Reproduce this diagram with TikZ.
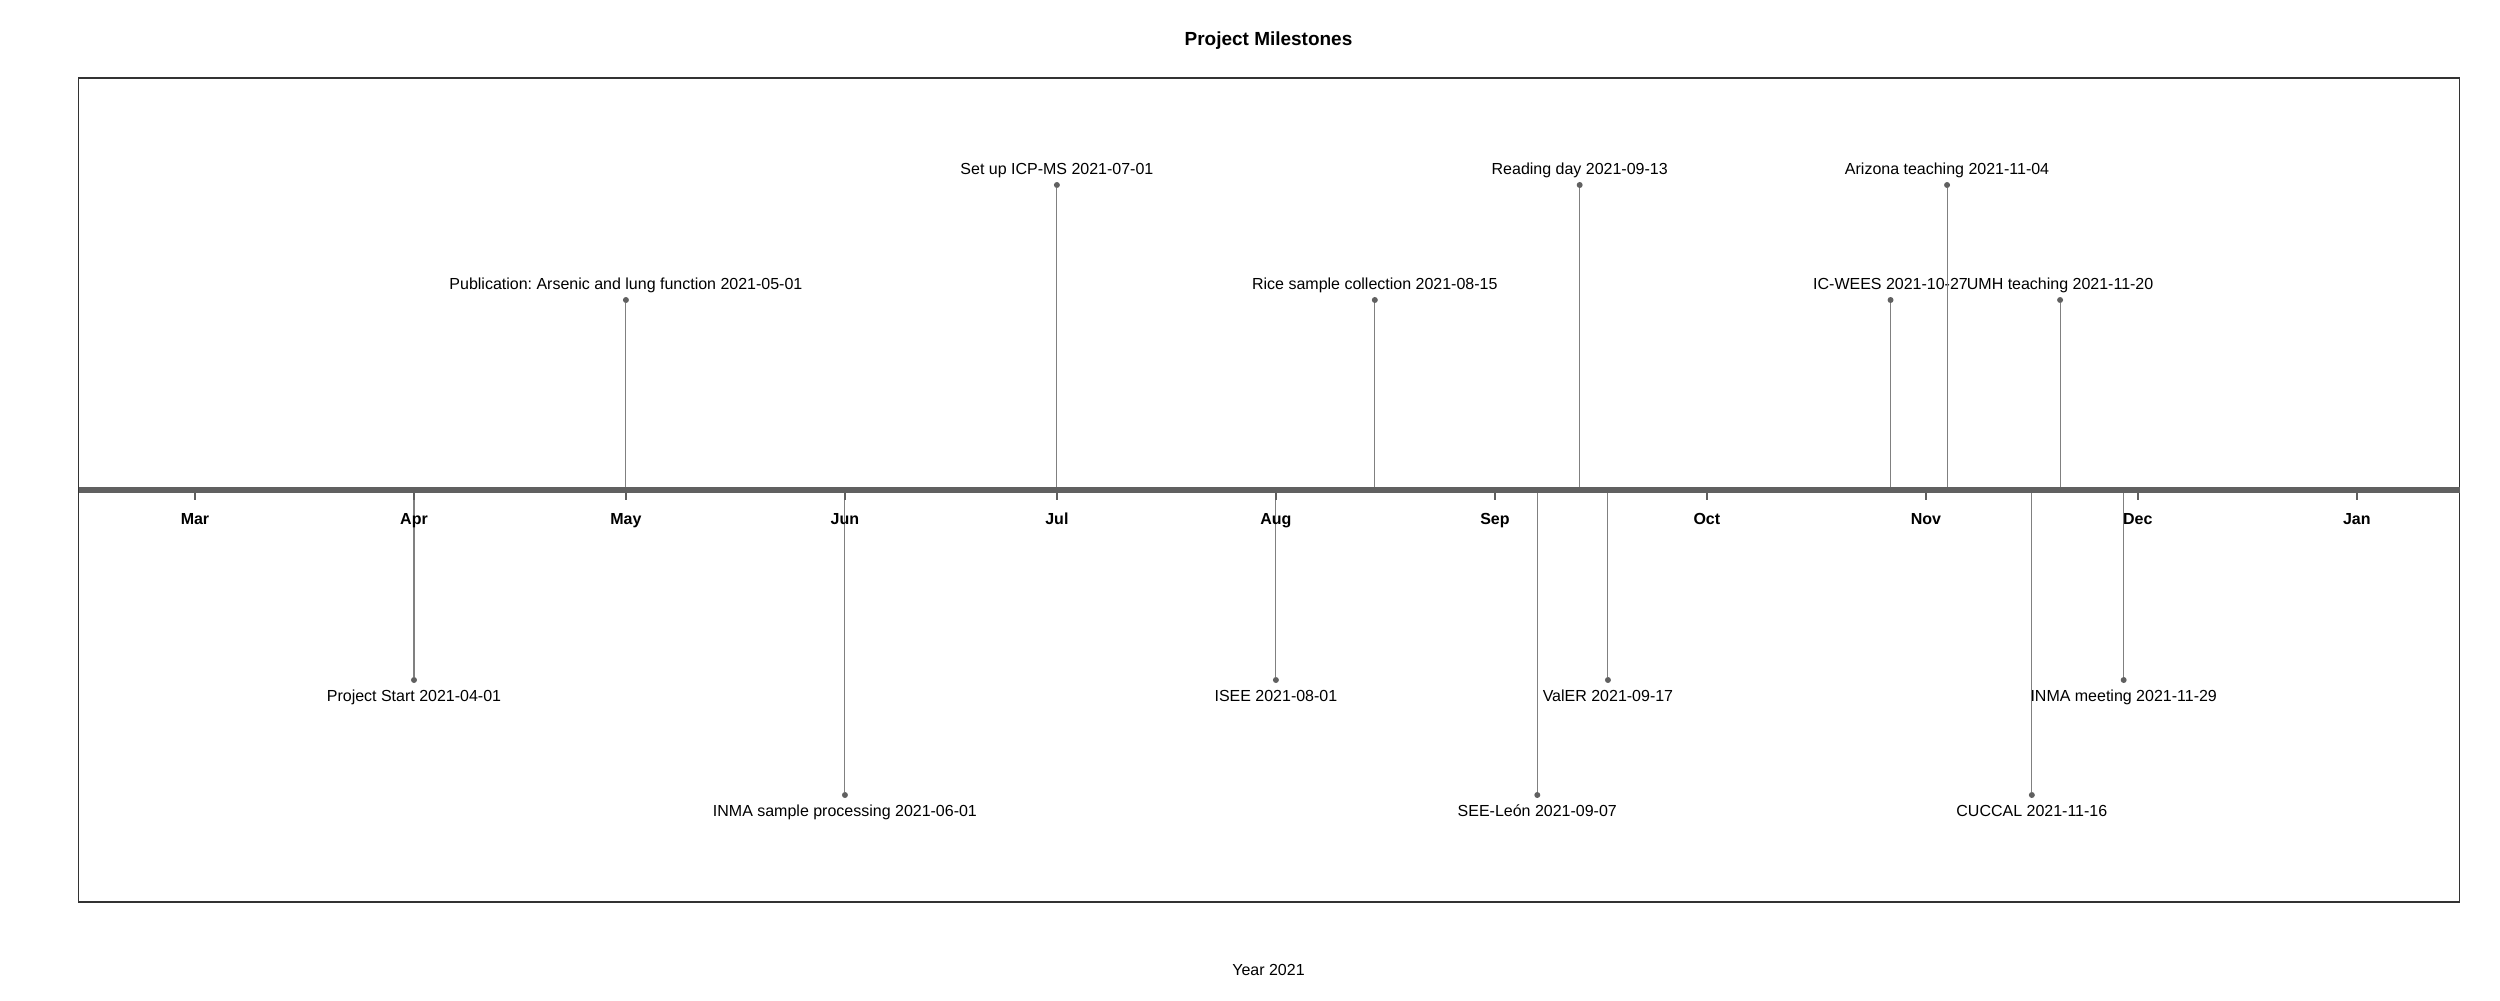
\documentclass[tikz,border=0pt]{standalone}
\usepackage{fontspec}
\setmainfont{Liberation Sans}
\usetikzlibrary{positioning, calc}
\definecolor{AxisGray}{RGB}{96, 96, 96}
\definecolor{StemGray}{RGB}{128, 128, 128}
\definecolor{FrameGray}{RGB}{51, 51, 51}
\frenchspacing

\begin{document}
\begin{tikzpicture}[
    milestone/.style={circle, fill=AxisGray, inner sep=0pt, minimum size=0.12cm},
    mlabel/.style={inner sep=0pt, text height=1.6ex, text depth=0.5ex, font=\fontsize{9.1}{11}\selectfont},
    stem/.style={StemGray, line width=0.6pt},
    month/.style={inner sep=0pt, text height=1.6ex, text depth=0.5ex, font=\fontsize{9.1}{11}\selectfont\bfseries},
  ]
  \useasboundingbox (0,-10.2) rectangle (50,9.8);

  % Plot frame, title and axis caption
  \draw[FrameGray, line width=0.8pt] (1.57,-8.24) rectangle (49.19,8.24);
  \node[font=\fontsize{10.8}{13}\selectfont\bfseries] (title) at (25.37,8.98) {Project Milestones};
  \node[mlabel] (xlab) at (25.37,-9.6) {Year 2021};

  \coordinate (axisL) at (1.57,0);
  \coordinate (axisR) at (49.19,0);

  % x is day of the year 2021, 0 = 1 Jan
  \begin{scope}[x=0.1413cm, xshift=-4.437cm]
    % Milestones above the line
    \foreach \d/\lv/\n/\txt in {
        120/3.8/pub/{Publication: Arsenic and lung function 2021-05-01},
        181/6.1/icpms/{Set up ICP-MS 2021-07-01},
        226/3.8/rice/{Rice sample collection 2021-08-15},
        255/6.1/reading/{Reading day 2021-09-13},
        299/3.8/icwees/{IC-WEES 2021-10-27},
        307/6.1/arizona/{Arizona teaching 2021-11-04},
        323/3.8/umh/{UMH teaching 2021-11-20}}{
      \node[milestone] (\n) at (\d,\lv) {};
      \node[mlabel, above=0.04cm of \n] (\n-lbl) {\txt};
      \draw[stem] (\n) -- (\n |- axisL);
    }

    % Milestones below the line
    \foreach \d/\lv/\n/\txt in {
        90/-3.8/start/{Project Start 2021-04-01},
        151/-6.1/inmasp/{INMA sample processing 2021-06-01},
        212/-3.8/isee/{ISEE 2021-08-01},
        249/-6.1/seeleon/{SEE-León 2021-09-07},
        259/-3.8/valer/{ValER 2021-09-17},
        319/-6.1/cuccal/{CUCCAL 2021-11-16},
        332/-3.8/inmamt/{INMA meeting 2021-11-29}}{
      \node[milestone] (\n) at (\d,\lv) {};
      \node[mlabel, below=0.05cm of \n] (\n-lbl) {\txt};
      \draw[stem] (\n) -- (\n |- axisL);
    }

    % Month ticks
    \foreach \d/\m in {59/Mar, 90/Apr, 120/May, 151/Jun, 181/Jul, 212/Aug,
        243/Sep, 273/Oct, 304/Nov, 334/Dec, 365/Jan}{
      \coordinate (tick-\m) at (\d,0);
      \draw[AxisGray, line width=0.8pt] (tick-\m) -- ++(0,-0.2);
      \node[month] (lbl-\m) at (\d,-0.59) {\m};
    }
  \end{scope}

  % Timeline
  \draw[AxisGray, line width=2.85pt] (axisL) -- (axisR);
\end{tikzpicture}
\end{document}
